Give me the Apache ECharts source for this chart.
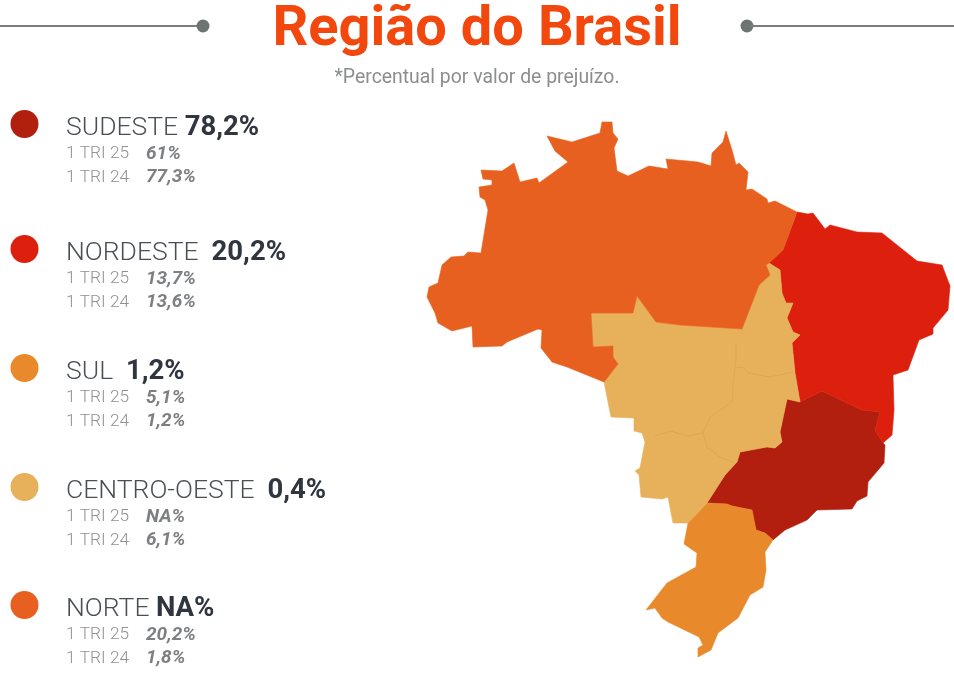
<!DOCTYPE html>
<html style="height: 100%">
<head>
<meta charset="utf-8">
<title>Região do Brasil</title>
</head>
<body style="height: 100%; margin: 0; background: #fff">
<div id="chart" style="width: 954px; height: 674px;"></div>
<script src="https://cdn.jsdelivr.net/npm/echarts@6/dist/echarts.min.js"></script>
<script>
var regions = ['SUDESTE', 'NORDESTE', 'SUL', 'CENTRO-OESTE', 'NORTE'];
var share = ['78,2%', '20,2%', '1,2%', '0,4%', 'NA%'];
var tri25 = ['61%', '13,7%', '5,1%', 'NA%', '20,2%'];
var tri24 = ['77,3%', '13,6%', '1,2%', '6,1%', '1,8%'];
var regionColors = ['#b31f0e', '#dd200e', '#e88a2b', '#e7b05b', '#e8601f'];
var nameGaps = [' ', '  ', '  ', '  ', ' '];
var rowTops = [124, 249, 368, 487, 605];

// contornos das regioes, tracados da figura (x, -y)
var outlines = {
    'SUDESTE': [[800,402],[822,391],[862,410],[880,412],[875,430],[883,443],[885,445],[884,463],[868,482],[867,496],[857,501],[852,509],[817,510],[807,520],[785,530],[773,540],[765,533],[756,530],[752,510],[732,506],[727,504],[707,503],[725,475],[737,462],[740,452],[767,447],[775,448],[782,442],[780,432],[787,399]],
    'NORDESTE': [[797,212],[808,214],[813,213],[825,229],[830,225],[857,232],[882,233],[917,261],[942,265],[950,286],[948,310],[933,328],[933,334],[919,340],[908,370],[893,375],[894,410],[892,435],[883,443],[875,430],[880,412],[862,410],[822,391],[800,402],[795,373],[792,343],[800,335],[793,332],[787,318],[793,303],[786,303],[782,293],[780,270],[769,263],[783,250]],
    'SUL': [[707,503],[727,504],[732,506],[752,510],[756,530],[765,533],[773,540],[765,552],[766,570],[763,587],[750,595],[738,618],[718,633],[711,650],[698,657],[698,648],[703,645],[699,637],[668,622],[662,618],[655,608],[646,610],[667,583],[696,567],[697,553],[684,544],[688,523]],
    'CENTRO-OESTE': [[591,313],[633,313],[637,296],[656,322],[680,325],[742,329],[759,285],[770,275],[766,265],[769,263],[780,270],[782,293],[786,303],[793,303],[787,318],[793,332],[800,335],[792,343],[795,373],[800,402],[787,399],[780,432],[782,442],[775,448],[767,447],[740,452],[737,462],[725,475],[707,503],[688,523],[673,523],[668,497],[662,499],[641,497],[639,475],[635,471],[640,468],[645,442],[642,433],[634,431],[634,418],[611,417],[604,382],[618,364],[613,357],[613,346],[593,347]],
    'NORTE': [[481,170],[502,171],[514,163],[520,182],[537,178],[539,183],[568,162],[555,151],[547,136],[572,142],[600,133],[602,122],[612,122],[613,133],[618,139],[614,148],[617,171],[628,176],[649,166],[668,169],[666,159],[698,162],[711,166],[712,153],[723,142],[726,131],[732,150],[736,165],[739,163],[748,172],[746,190],[752,189],[767,199],[768,203],[775,201],[797,212],[783,250],[769,263],[766,265],[770,275],[759,285],[742,329],[680,325],[656,322],[637,296],[633,313],[591,313],[593,347],[613,346],[613,357],[618,364],[604,382],[567,367],[552,362],[541,348],[542,330],[538,329],[507,342],[502,346],[473,347],[472,326],[452,331],[438,323],[435,313],[427,297],[429,287],[438,283],[442,265],[451,257],[464,256],[468,252],[481,253],[488,210],[485,200],[480,197],[479,187],[492,185],[492,180],[483,179]]
};
// divisas estaduais, quase invisiveis na figura
var stateLines = [
    [[736,343],[736,357],[735,368],[733,385],[732,402],[710,417],[703,433],[688,436],[670,431],[655,436]],
    [[735,368],[743,367],[748,373],[770,377],[793,372]],
    [[703,433],[707,447],[720,457],[735,463]]
];

function flip(p) { return [p[0], -p[1]]; }

var features = regions.map(function (name) {
    var ring = outlines[name].map(flip);
    ring.push(ring[0]);
    return { type: 'Feature', properties: { name: name }, geometry: { type: 'Polygon', coordinates: [ring] } };
});
features.push({
    type: 'Feature',
    properties: { name: 'divisas' },
    geometry: { type: 'MultiLineString', coordinates: stateLines.map(function (l) { return l.map(flip); }) }
});
echarts.registerMap('brasil', { type: 'FeatureCollection', features: features });

var graphics = [
    { type: 'line', shape: { x1: 0, y1: 26, x2: 200, y2: 26 }, style: { stroke: '#7a7d7c', lineWidth: 2 } },
    { type: 'circle', shape: { cx: 203, cy: 26, r: 6.5 }, style: { fill: '#6f7372' } },
    { type: 'circle', shape: { cx: 747, cy: 26, r: 6.5 }, style: { fill: '#6f7372' } },
    { type: 'line', shape: { x1: 750, y1: 26, x2: 954, y2: 26 }, style: { stroke: '#7a7d7c', lineWidth: 2 } }
];

regions.forEach(function (name, i) {
    var top = rowTops[i];
    graphics.push({ type: 'circle', shape: { cx: 24.5, cy: top, r: 14 }, style: { fill: regionColors[i] } });
    graphics.push({
        type: 'text', x: 66, y: top + 4,
        style: {
            text: '{n|' + name + nameGaps[i] + '}{p|' + share[i] + '}',
            verticalAlign: 'middle',
            rich: {
                n: { fontFamily: 'Roboto', fontWeight: 300, fontSize: 26.5, fill: '#4b4f55' },
                p: { fontFamily: 'Roboto', fontWeight: 'bold', fontSize: 27.5, fill: '#30353f' }
            }
        }
    });
    [tri25, tri24].forEach(function (vals, k) {
        graphics.push({
            type: 'text', x: 66, y: top + 30 + k * 23.5,
            style: {
                text: '{l|' + (k === 0 ? '1 TRI 25' : '1 TRI 24') + '}{v|' + vals[i] + '}',
                verticalAlign: 'middle',
                rich: {
                    l: { fontFamily: 'Roboto', fontWeight: 300, fontSize: 17.3, fill: '#8f9192', width: 80 },
                    v: { fontFamily: 'Roboto', fontWeight: 'bold', fontStyle: 'italic', fontSize: 19, fill: '#7d7f80' }
                }
            }
        });
    });
});

var myChart = echarts.init(document.getElementById('chart'));
var option = {
    backgroundColor: '#ffffff',
    animation: false,
    title: {
        text: 'Região do Brasil',
        left: 'center',
        top: 3,
        padding: [0, 7, 0, 0],
        textStyle: { fontFamily: 'Roboto', fontWeight: 'bold', fontSize: 56, color: '#f2470d' },
        subtext: '*Percentual por valor de prejuízo.',
        subtextStyle: { fontFamily: 'Roboto', fontSize: 19.4, color: '#8b8d8e' },
        itemGap: 10
    },
    graphic: graphics,
    series: [{
        type: 'map',
        map: 'brasil',
        left: 0,
        top: 0,
        width: 954,
        height: 674,
        aspectScale: 1,
        boundingCoords: [[0, 0], [954, -674]],
        roam: false,
        selectedMode: false,
        silent: true,
        label: { show: false },
        emphasis: { disabled: true },
        itemStyle: { borderWidth: 0.6, borderColor: 'rgba(120,90,60,0.35)' },
        data: regions.map(function (name, i) {
            return { name: name, value: parseFloat(share[i].replace(',', '.')) || 0, itemStyle: { areaColor: regionColors[i], borderColor: regionColors[i] } };
        }).concat([{ name: 'divisas', itemStyle: { borderColor: 'rgba(170,125,60,0.28)', borderWidth: 0.7, areaColor: 'transparent' } }])
    }]
};
myChart.setOption(option, true);
</script>
</body>
</html>
